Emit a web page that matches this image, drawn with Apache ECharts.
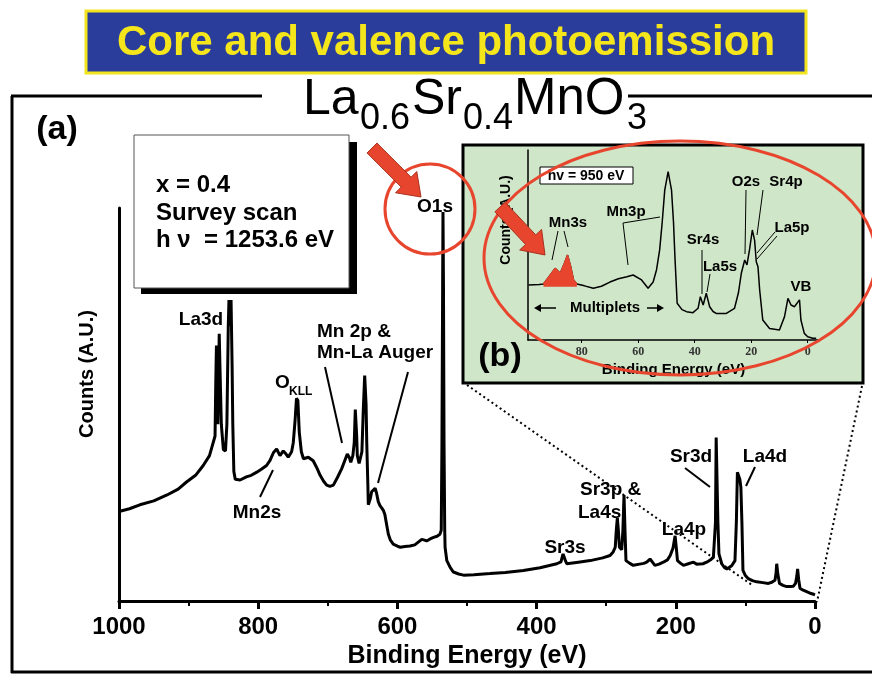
<!DOCTYPE html>
<html><head><meta charset="utf-8">
<script src="https://cdn.jsdelivr.net/npm/echarts@6/dist/echarts.min.js"></script>
<style>html,body{margin:0;padding:0;background:#fff}#c{width:872px;height:674px}</style>
</head><body><div id="c"></div><script>
// ---- survey scan (a) ----
const surveyEnergy = [1000,985,970,950,931,915,903,890,879,870,866,862,861,860,859,858,857,856,855,853,850,847,845,843,842,840.5,839,837.5,836.5,835,833,826,817,810,802,795,788,783,778,773.5,768.7,764,760,756.8,752,749.6,747,745,743,741,738,735,728,721,716,711,706,701.6,697,692,686,680,675,672,669,667,664,662,660.5,659.5,658.5,657.6,655,653.7,651,649,647,646,645,644,642.5,641.8,639,637,635,632,630,627.5,625,622.6,620,618,615.5,613,610,606,600,596,589,582,575,565,561,558,553,548,543,539,537,536,535,534.5,533.8,533,532,531.5,529,524,519.5,512,505,490,467,445,419,395,371,365,362,359,356.7,340,323,305,294.5,290,287,285.5,284,282.5,281,277.7,276,274.4,273,271.6,266,261,252,246,241.8,237,233,230,224,218,212,208,204,201,199,197.6,193,189,182,174.6,170,167.4,161,155.6,150,146,143,142,140.5,139.5,138,134,130,126.7,123,119.7,115,113,111.5,109.5,108,106.5,105,103.5,100,95.8,90,83.7,75,67,62,57.5,56,55,53.5,51,46,40.7,35,31,28,26,25,23.5,21.5,17,12,7,3,0];
const surveyCounts = [22.8,23.5,24.5,25.5,27,28.5,30.3,32,34.5,37,39.5,42,55,65,50,45,55,68,60,45,38.5,38.2,45,70,76.6,70,76.6,60,45,33,31,30.8,31.6,32,32.8,33.6,34.5,35.8,37.8,38.7,37,38.2,37.4,36.6,38,40.3,46,51.6,51,43,38,36.2,36.6,35.7,34,32,30.5,29.5,29.2,29.5,31.5,33.7,36,37.4,36.5,35.3,37,40.3,48.7,49,42,37,35,34.5,38,48.7,57.4,57.4,50,40,30,24.5,26,27.8,28.2,28.7,27.5,25.3,24.3,23.7,23,22,19.5,17,15.5,14.5,14,13.7,13.9,14,14.3,15.7,15.5,15.3,15.8,16.2,16.5,17,18,40,80,99,80,40,18,13.7,10.3,8.5,7.4,6.9,6.6,6.7,7,7.3,7.8,8.5,9.5,10,12,10.5,9.5,9.9,10.3,11,11.6,12.5,13.7,18,21.2,18,13.7,13.1,18,27,18,10.3,9.6,9.1,9.4,9.6,9.9,10.7,9.8,9.1,9.4,9.9,10.5,11.6,13.5,16.6,13,10.3,9.6,9.1,9.5,9.9,9.4,9.1,9.5,9.9,10.5,11.2,20,41.6,41.6,20,12,9.5,8.5,8.2,8.6,9,10.3,20,32.8,32.8,31,29,20,7.8,6.5,5.7,5.2,4.9,4.7,4.5,4.8,5.3,7,9.5,7,4.5,4,3.7,3.7,3.8,4.5,6.5,8.2,5.5,3.2,2.8,2.4,2,1.8,1.6];
// ---- valence / shallow core inset (b) ----
const insetEnergy = [98.8,95,93.5,91.5,89.4,87.6,86.2,85,83.8,82.9,81.7,79,75.9,73,70,67,64,61.8,58.8,56.5,54.7,53.5,52.4,51.5,50.6,49.4,48.2,47.5,47,46.2,44.5,42.9,40.6,38.8,38,37,35.9,34.7,33.5,32.4,28.8,25.9,24.5,23.5,22.3,21.5,20.6,19.6,18.8,18.2,17.6,17,15.9,13.5,10,8.2,7,5.9,4.7,2.9,2.4,1.2,0,-1.8,-3];
const insetCounts = [28.9,29.2,29.5,33.5,37.7,35.1,40,44.7,38,31.6,29.5,28.5,27.2,28.3,30.5,32.2,33.3,34.2,31.6,27.2,30.5,37,47.4,62,78.9,88.6,78.9,62,43.9,19.3,16,14.9,14.4,16.7,22.8,18.4,24.6,17.5,15,14,14,16.7,25,35.1,42.1,39.5,47.4,57.9,52.6,41.2,38.6,26.3,10.5,6.1,5.3,12.3,21.9,18.4,17.5,21.1,10.5,3.5,1.75,0.9,0.9];
const mn3sEnergy = [93.5,91.5,89.4,87.6,86.2,85,83.8,82.9,81.7];
const mn3sCounts = [29.5,33.5,37.7,35.1,40,44.7,38,31.6,29.5];
const mn3sBaseline = 28;
const insetTickValues = [0,20,40,60,80];

const F = 'Liberation Sans, Arial, Helvetica, sans-serif';
const RED = '#e8452e';
const pair = (xs, ys) => xs.map((x, i) => [x, ys[i]]);

function txt(x, y, text, size, opt) {
  opt = opt || {};
  return {type:'text', x, y, z: opt.z || 20, rotation: opt.rotation || 0,
    style:{text, fill: opt.color || '#000', font: (opt.weight || 'bold') + ' ' + size + 'px ' + (opt.family || F),
      align: opt.align || 'center', verticalAlign: 'middle'}};
}
function ln(x1, y1, x2, y2, w, opt) {
  opt = opt || {};
  return {type:'line', z: opt.z || 20, shape:{x1,y1,x2,y2},
    style:{stroke: opt.color || '#000', lineWidth: w, lineDash: opt.dash || null}};
}
function arrow(tx, ty, hx, hy, sw, hw, hl) {
  const L = Math.hypot(hx - tx, hy - ty), dx = (hx - tx) / L, dy = (hy - ty) / L, px = -dy, py = dx;
  const nx = hx - dx * hl, ny = hy - dy * hl;
  return {type:'polygon', z: 25, shape:{points:[
    [tx - px*sw, ty - py*sw], [nx - px*sw, ny - py*sw], [nx - px*hw, ny - py*hw], [hx, hy],
    [nx + px*hw, ny + py*hw], [nx + px*sw, ny + py*sw], [tx + px*sw, ty + py*sw]]},
    style:{fill: RED, stroke:'#a8321e', lineWidth:1}};
}

const graphics = [
  // title banner
  {type:'rect', z:20, shape:{x:86, y:11, width:720, height:62}, style:{fill:'#2b3d9b', stroke:'#f2e41f', lineWidth:3}},
  txt(446, 43, 'Core and valence photoemission', 42, {color:'#f5e61c'}),
  // outer frame
  ln(12, 96, 12, 673, 3), ln(11, 96, 262, 96, 3), ln(628, 96, 872, 96, 3), ln(11, 672, 872, 672, 3),
  // formula
  txt(303, 100, 'La', 50, {align:'left', weight:'normal'}),
  txt(360, 119, '0.6', 36, {align:'left', weight:'normal'}),
  txt(412, 100, 'Sr', 50, {align:'left', weight:'normal'}),
  txt(463, 119, '0.4', 36, {align:'left', weight:'normal'}),
  txt(514, 100, 'MnO', 51, {align:'left', weight:'normal'}),
  txt(627, 119, '3', 36, {align:'left', weight:'normal'}),
  txt(57, 130, '(a)', 34),
  // info box
  {type:'rect', z:18, shape:{x:141, y:142, width:216, height:152}, style:{fill:'#000'}},
  {type:'rect', z:19, shape:{x:134, y:135, width:215, height:153}, style:{fill:'#fff', stroke:'#555', lineWidth:1}},
  txt(156, 185, 'x = 0.4', 24, {align:'left'}),
  txt(156, 213, 'Survey scan', 24, {align:'left'}),
  txt(156, 240, 'h ν  = 1253.6 eV', 24, {align:'left'}),
  // y name
  txt(87, 374, 'Counts (A.U.)', 20, {rotation: Math.PI/2}),
  // survey annotations
  txt(201, 320, 'La3d', 19),
  txt(275, 383, 'O', 19, {align:'left'}),
  txt(289, 392, 'KLL', 12, {align:'left'}),
  txt(317, 332, 'Mn 2p &', 19, {align:'left'}),
  txt(317, 353, 'Mn-La Auger', 19, {align:'left'}),
  ln(325, 367, 342, 443, 2), ln(408, 372, 378, 483, 2),
  txt(257, 513, 'Mn2s', 19), ln(273, 470, 260, 497, 2),
  txt(435, 207, 'O1s', 19),
  txt(565, 548, 'Sr3s', 19),
  txt(580, 490, 'Sr3p &', 19, {align:'left'}),
  txt(578, 513, 'La4s', 19, {align:'left'}),
  txt(684, 530, 'La4p', 19),
  txt(691, 457, 'Sr3d', 19), ln(685, 468, 710, 487, 2),
  txt(765, 457, 'La4d', 19), ln(755, 467, 746, 486, 2),
  // red circle + arrow on O1s
  {type:'circle', z:22, shape:{cx:430, cy:209, r:45}, style:{fill:'none', stroke:RED, lineWidth:3}},
  arrow(372, 148, 421, 197, 7, 15, 21),
  // inset box
  {type:'rect', z:-1, shape:{x:463, y:145, width:400, height:238}, style:{fill:'#cfe6c8', stroke:'#000', lineWidth:3}},
  txt(500, 357, '(b)', 34),
  {type:'rect', z:20, shape:{x:540, y:167, width:93, height:17}, style:{fill:'#fff', stroke:'#000', lineWidth:1}},
  txt(586, 176, 'hv = 950 eV', 14),
  txt(506, 220, 'Counts (A.U.)', 14, {rotation: Math.PI/2}),
  txt(568, 223, 'Mn3s', 15), ln(558, 231, 552, 260, 1), ln(564, 231, 568, 247, 1),
  txt(626, 212, 'Mn3p', 15), ln(623, 223, 628, 265, 1), ln(623, 223, 660, 217, 1),
  txt(703, 240, 'Sr4s', 15), ln(702, 250, 702, 294, 1),
  txt(720, 267, 'La5s', 15), ln(710, 274, 707, 292, 1),
  txt(746, 182, 'O2s', 15), ln(746, 190, 745, 254, 1),
  txt(786, 182, 'Sr4p', 15), ln(763, 190, 757, 235, 1),
  txt(792, 228, 'La5p', 15), ln(775, 232, 757, 253, 1), ln(777, 236, 757, 259, 1),
  txt(801, 287, 'VB', 15),
  txt(605, 308, 'Multiplets', 15),
  ln(538, 308, 556, 308, 1.5),
  {type:'polygon', z:20, shape:{points:[[534,308],[541,304],[541,312]]}, style:{fill:'#000'}},
  ln(647, 308, 660, 308, 1.5),
  {type:'polygon', z:20, shape:{points:[[664,308],[657,304],[657,312]]}, style:{fill:'#000'}},
  // ellipse + arrow in inset
  {type:'ellipse', z:22, shape:{cx:680, cy:258, rx:196, ry:117}, style:{fill:'none', stroke:RED, lineWidth:3}},
  arrow(500, 207, 545, 255, 7, 15, 21),
  // zoom lines
  ln(467, 385, 752, 585, 2, {dash:[2,3]}),
  ln(862, 386, 817, 602, 2, {dash:[2,3]})
];

const chart = echarts.init(document.getElementById('c'), null, {renderer:'canvas'});
chart.setOption({
  animation: false,
  backgroundColor: '#fff',
  grid: [
    {left:119, right:57, top:208, bottom:66},
    {left:528, width:291, top:150, height:190}
  ],
  xAxis: [
    {type:'value', gridIndex:0, min:0, max:1000, interval:200, inverse:true,
     name:'Binding Energy (eV)', nameLocation:'middle', nameGap:38,
     nameTextStyle:{fontFamily:F, fontWeight:'bold', fontSize:25, color:'#000'},
     axisLine:{onZero:false, lineStyle:{color:'#000', width:3}},
     axisTick:{show:true, length:8, lineStyle:{color:'#000', width:3}},
     minorTick:{show:true, splitNumber:2, length:5, lineStyle:{color:'#000', width:2}},
     axisLabel:{fontFamily:F, fontWeight:'bold', fontSize:24, color:'#000', margin:14, formatter: v => String(v)},
     splitLine:{show:false}},
    {type:'value', gridIndex:1, min:-4, max:99, inverse:true,
     name:'Binding Energy (eV)', nameLocation:'middle', nameGap:22,
     nameTextStyle:{fontFamily:F, fontWeight:'bold', fontSize:15, color:'#000'},
     axisLine:{onZero:false, lineStyle:{color:'#000', width:1.5}},
     axisTick:{show:true, length:3, customValues:insetTickValues, lineStyle:{color:'#000', width:1}},
     axisLabel:{customValues:insetTickValues, fontFamily:'Liberation Serif, serif', fontWeight:'bold', fontSize:12, color:'#333', margin:6, formatter: v => String(v)},
     splitLine:{show:false}}
  ],
  yAxis: [
    {type:'value', gridIndex:0, min:0, max:100,
     axisLine:{show:true, onZero:false, lineStyle:{color:'#000', width:3}},
     axisTick:{show:false}, axisLabel:{show:false}, splitLine:{show:false}},
    {type:'value', gridIndex:1, min:0, max:100,
     axisLine:{show:true, onZero:false, lineStyle:{color:'#000', width:1.5}},
     axisTick:{show:false}, axisLabel:{show:false}, splitLine:{show:false}}
  ],
  series: [
    {type:'line', xAxisIndex:0, yAxisIndex:0, data:pair(surveyEnergy, surveyCounts), showSymbol:false,
     lineStyle:{color:'#000', width:3}, z:5},
    {type:'line', xAxisIndex:1, yAxisIndex:1, data:pair(insetEnergy, insetCounts), showSymbol:false,
     lineStyle:{color:'#000', width:1.5}, z:5},
    {type:'line', xAxisIndex:1, yAxisIndex:1, data:pair(mn3sEnergy, mn3sCounts), showSymbol:false,
     lineStyle:{color:RED, width:1.5}, areaStyle:{color:RED, opacity:1, origin:mn3sBaseline}, z:6}
  ],
  graphic: graphics
});
</script></body></html>
